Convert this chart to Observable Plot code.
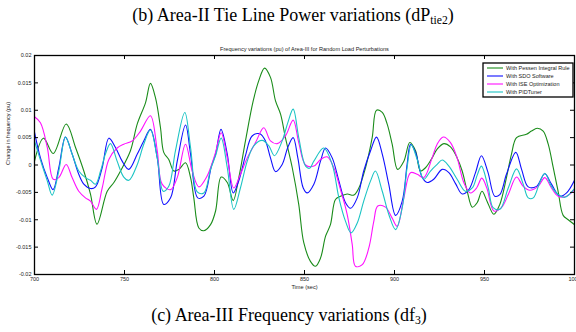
<!DOCTYPE html>
<html><head><meta charset="utf-8">
<script src="https://cdn.jsdelivr.net/npm/d3@7"></script>
<script src="https://cdn.jsdelivr.net/npm/@observablehq/plot@0.6"></script>
<style>
body{margin:0;background:#fff;}
#wrap{position:relative;width:576px;height:332px;overflow:hidden;font-family:"Liberation Serif","Times New Roman",serif;}
.cap{position:absolute;width:576px;text-align:center;font-size:18px;color:#000;white-space:nowrap;line-height:1;}
.cap sub{font-size:65%;vertical-align:-0.25em;}
</style></head><body>
<div id="wrap">
<div id="chart" style="position:absolute;left:0;top:0"></div>
<div class="cap" style="left:5px;top:6px">(b) Area-II Tie Line Power variations (dP<sub>tie2</sub>)</div>
<div class="cap" style="left:1px;top:306px">(c) Area-III Frequency variations (df<sub>3</sub>)</div>
</div>
<script>
const chartTitle = "Frequency variations (pu) of Area-III for Random Load Perturbations";
const xLabel = "Time (sec)";
const yLabel = "Change in frequency (pu)";
const xTicks = [700, 750, 800, 850, 900, 950, 1000];
const xTickLabels = ["700", "750", "800", "850", "900", "950", "1000"];
const yTicks = [-0.02, -0.015, -0.01, -0.005, 0, 0.005, 0.01, 0.015, 0.02];
const yTickLabels = ["-0.02", "-0.015", "-0.01", "-0.005", "0", "0.005", "0.01", "0.015", "0.02"];
const seriesNames = ["With Pessen Integral Rule", "With SDO Software", "With ISE Optimization", "With PIDTuner"];
const seriesColors = ["#1a8c1a", "#1010ff", "#ff10ff", "#1cc4c4"];

const pessen = [[700,0.0007],[705,0.0049],[710.4,0.0021],[717.6,0.0075],[722.8,0.0032],[727.4,-0.0011],[731.1,-0.0053],[734.7,-0.0108],[740.4,-0.0048],[744.1,-0.0032],[747.8,-0.0011],[753.3,0.0026],[757.1,0.0075],[761.7,0.0114],[764.4,0.0149],[767.2,0.0123],[770,0.0068],[771.8,0.0023],[774.6,0.001],[777.4,-0.0011],[780.2,-0.0008],[783.9,0.0004],[786.7,-0.0023],[788.5,-0.006],[791.3,-0.0115],[794.1,-0.012],[797.8,-0.0109],[800.6,-0.0084],[803.7,-0.0022],[807.1,-0.0032],[810.4,-0.0065],[813.5,-0.0023],[817.2,0.0044],[821.5,0.0117],[824.6,0.0154],[827.8,0.0177],[831.1,0.016],[833.9,0.0117],[836.7,0.0093],[839.4,0.005],[843.2,-0.0005],[846.8,-0.0072],[849.6,-0.0142],[853.3,-0.0176],[856.1,-0.0185],[858.9,-0.017],[861.7,-0.013],[864.4,-0.0109],[867.2,-0.0063],[870,-0.0057],[873.7,-0.0053],[877.4,-0.0055],[880.2,-0.0042],[883.9,-0.0005],[887.6,0.005],[890,0.01],[893.2,0.0096],[895.9,0.0075],[898.7,0.0038],[901.7,-0.0008],[905.2,0.0007],[908.5,0.0041],[911.7,0.0026],[914.4,-0.0011],[917.2,-0.0005],[920.9,0.0013],[923.7,0.0029],[927.4,0.0039],[931.1,0.0033],[934.8,0.0013],[937.6,-0.0011],[940.4,-0.0048],[943.2,-0.0077],[945.9,-0.0069],[948.6,-0.0048],[951.4,-0.0066],[955.2,-0.009],[958.5,-0.0072],[962.2,-0.0023],[965,0.002],[967.8,0.005],[973.3,0.0056],[976.1,0.0062],[979.3,0.0067],[982.6,0.0062],[985.4,0.0038],[988.2,-0.0005],[990.9,-0.0048],[993.7,-0.0092],[996.5,-0.01],[1000,-0.0109]];

const sdo = [[700,0.006],[703.3,0.0013],[707.1,-0.0023],[710.3,-0.0045],[713.5,-0.0005],[717.2,0.0051],[720.9,0.002],[724.6,-0.0017],[727.4,-0.0035],[731.1,-0.0043],[733.9,-0.004],[737.6,-0.0005],[741.3,0.0049],[745,0.0032],[748.7,0.0007],[752.4,-0.0008],[757.1,0.002],[760.7,0.0044],[764.4,0.0065],[768.2,0.0013],[771.8,-0.0072],[775.6,-0.006],[779.3,0.0007],[783.9,0.0073],[786.7,0.002],[790.7,-0.006],[794.1,-0.0057],[798.3,-0.0002],[800.6,0.002],[803.6,0.0065],[807.1,0.002],[810.4,-0.0051],[813.5,-0.0029],[817.2,0.0017],[820.9,0.0053],[825.2,0.0057],[828.3,0.0044],[831.1,0.0013],[833.9,-0.0012],[837.6,0.0001],[840.7,0.0032],[843.7,0.005],[846.3,0.0013],[849.3,-0.0042],[851.5,-0.0051],[855.2,-0.0035],[858.9,0.0007],[861.7,0.0031],[865.4,0.0013],[869.1,-0.0029],[872.8,-0.0069],[875.6,-0.0079],[879.3,-0.006],[882.9,-0.0011],[886.7,0.0026],[890,0.0051],[893.2,0.002],[896.8,-0.0035],[900.6,-0.0092],[904.3,-0.0066],[907,0.0001],[908.9,0.0038],[911.7,0.0023],[915.4,-0.0023],[918.2,-0.0032],[921.8,-0.0026],[926.5,-0.0008],[930.2,-0.0014],[933.9,-0.0034],[937.6,-0.0053],[941.3,-0.0045],[945,-0.0014],[948.3,0.0017],[951.9,-0.0013],[955.7,-0.0057],[958.5,-0.0054],[962.2,-0.0017],[967.4,0.0023],[970.6,-0.0008],[974.3,-0.004],[978.9,-0.0039],[983.5,-0.0016],[987.2,-0.0035],[991.8,-0.0057],[995.6,-0.0051],[1000,-0.0028]];

const ise = [[700,0.0088],[703.3,0.0077],[707.1,0.0032],[710.4,-0.0026],[713.5,-0.0023],[717.6,0.0001],[720.9,-0.0023],[724.6,-0.0048],[728.3,-0.006],[731.1,-0.0066],[734.4,-0.0081],[737.6,-0.0042],[741.3,0.001],[745.9,0.0031],[749.6,0.0038],[754.3,0.0044],[758.9,0.0062],[764.4,0.009],[768.2,0.0026],[770.9,-0.0035],[775.6,-0.0045],[779.3,-0.0023],[783.9,0.0038],[787.6,-0.0011],[791.3,-0.004],[795.9,-0.002],[797.8,-0.0005],[800.6,0.0023],[803.7,0.0059],[807.1,0.0013],[810.7,-0.0042],[814.4,-0.0017],[818.2,0.0013],[822.8,0.0041],[827.4,0.0068],[831.1,0.0044],[834.8,0.0039],[839.4,0.0053],[843.7,0.0082],[846.8,0.0041],[850.6,0],[855.2,-0.0002],[858.9,0.001],[862.6,0.0015],[866.3,-0.0005],[870,-0.0045],[873.7,-0.009],[876.5,-0.0145],[878.3,-0.0185],[882.1,-0.0182],[885.7,-0.0152],[888.5,-0.0103],[890.7,-0.0075],[895,-0.0077],[898.7,-0.0097],[901.5,-0.0112],[905.2,-0.006],[908.9,-0.0014],[912.6,-0.0017],[916.3,-0.0023],[920.9,0.0013],[923.7,0.0038],[927.1,0.0051],[931.1,0.0041],[934.8,0.0013],[938.5,-0.0032],[942.2,-0.0051],[945.6,-0.0042],[948.5,-0.0024],[951.3,-0.0042],[955.2,-0.0084],[959.4,-0.0078],[963.2,-0.0054],[967.8,-0.0022],[971.5,-0.0039],[975.2,-0.0046],[979.8,-0.0039],[983.5,-0.0023],[987.2,-0.0042],[990.9,-0.0057],[995.6,-0.0057],[1000,-0.0045]];

const pidTuner = [[700,0.0044],[703.3,0.0009],[707.1,-0.0029],[709.8,-0.0055],[713.5,-0.0011],[717.2,0.0051],[720.9,0.002],[724.6,-0.0011],[728.3,-0.0023],[731.1,-0.0028],[733.9,-0.0035],[736.7,-0.0011],[739.4,0.002],[742.2,0.0039],[745.9,0.0007],[749.6,-0.0022],[752.4,-0.0028],[757.1,0.0001],[760.7,0.0038],[764.4,0.0064],[768.2,0.0013],[771.5,-0.0048],[774.6,-0.0039],[778.3,0.0026],[783.5,0.0096],[786.7,0.0032],[790.4,-0.0049],[794.1,-0.0051],[797.8,-0.0008],[800.6,0.0017],[803.7,0.0049],[807.1,-0.0005],[810.7,-0.0081],[814.4,-0.0042],[818.2,0.0007],[821.8,0.0035],[826.5,0.0045],[830.2,0.0035],[833.3,0.0017],[837.6,0.0044],[840.7,0.0077],[843.7,0.0102],[846.8,0.005],[850.6,-0.0002],[852.8,-0.0006],[855.2,0.0007],[860.7,0.0031],[865.4,0.0001],[869.1,-0.006],[872.8,-0.0103],[875.9,-0.0124],[879.3,-0.0106],[882.9,-0.0066],[886.7,-0.0029],[889.4,-0.0011],[893.2,-0.0048],[896.8,-0.009],[900.6,-0.0118],[904.3,-0.0078],[907,-0.0005],[909.3,0.0037],[912.6,0.001],[916.3,-0.0026],[920,-0.0011],[923.7,0.0001],[926.5,0.0009],[930.2,-0.0002],[934.8,-0.0026],[939.4,-0.0048],[943.2,-0.0042],[946,-0.0018],[948.3,-0.0002],[952.1,-0.0042],[954.8,-0.0078],[958.5,-0.0081],[963.2,-0.0042],[967.8,-0.0007],[971.5,-0.0035],[974.3,-0.006],[977.1,-0.006],[980.7,-0.0032],[983.5,-0.0015],[987.2,-0.0039],[990.9,-0.0054],[994.6,-0.0059],[1000,-0.0043]];

const seriesData = [pessen, sdo, ise, pidTuner];
const rows = seriesData.flatMap((arr, k) => arr.map(([t, v]) => ({t, v, name: seriesNames[k]})));

const W = 576, H = 332, mL = 34, mR = 2, mT = 55, mB = 58;
const fw = W - mL - mR, fh = H - mT - mB, tl = 4;

const chart = Plot.plot({
  width: W, height: H,
  marginLeft: mL, marginRight: mR, marginTop: mT, marginBottom: mB,
  x: {domain: [700, 1000]},
  y: {domain: [-0.02, 0.02]},
  color: {domain: seriesNames, range: seriesColors},
  style: {fontFamily: "'Liberation Sans', Arial, sans-serif", fontSize: "5.5px", background: "white", color: "#222"},
  marks: [
    Plot.axisX({ticks: xTicks, tickSize: 0, tickPadding: 3, tickFormat: d => xTickLabels[xTicks.indexOf(d)], label: null}),
    Plot.axisY({ticks: yTicks, tickSize: 0, tickPadding: 3, tickFormat: d => yTickLabels[yTicks.indexOf(d)], label: null}),
    Plot.line(rows, {x: "t", y: "v", z: "name", stroke: "name", strokeWidth: 1.1, curve: "catmull-rom", clip: true}),
    Plot.tickY(yTicks, {y: d => d, insetRight: fw - tl, stroke: "black", strokeWidth: 1}),
    Plot.tickY(yTicks, {y: d => d, insetLeft: fw - tl, stroke: "black", strokeWidth: 1}),
    Plot.tickX(xTicks, {x: d => d, insetTop: fh - tl, stroke: "black", strokeWidth: 1}),
    Plot.tickX(xTicks, {x: d => d, insetBottom: fh - tl, stroke: "black", strokeWidth: 1}),
    Plot.frame({stroke: "black", strokeWidth: 1.3}),
    Plot.text([chartTitle], {text: d => d, frameAnchor: "top", dy: -8, fontSize: 5.6, fill: "#222"}),
    Plot.text([xLabel], {text: d => d, frameAnchor: "bottom", dy: 14, fontSize: 5.6, fill: "#222"}),
    Plot.text([yLabel], {text: d => d, frameAnchor: "left", rotate: -90, dx: -26, fontSize: 5.6, fill: "#222"})
  ]
});
document.getElementById("chart").appendChild(chart);

// legend box (top-right, inside the frame)
const lg = d3.select("#wrap").append("svg")
  .attr("width", 92).attr("height", 36)
  .style("position", "absolute").style("left", "482px").style("top", "62px");
lg.append("rect").attr("x", 1).attr("y", 1).attr("width", 90).attr("height", 34)
  .attr("fill", "white").attr("stroke", "black").attr("stroke-width", 1.3);
seriesNames.forEach((name, i) => {
  const y = 6 + i * 8;
  lg.append("line").attr("x1", 5).attr("x2", 21).attr("y1", y).attr("y2", y)
    .attr("stroke", seriesColors[i]).attr("stroke-width", 1.1);
  lg.append("text").attr("x", 24).attr("y", y).attr("dy", "0.35em")
    .attr("font-family", "'Liberation Sans', Arial, sans-serif").attr("font-size", 5.5)
    .attr("fill", "#222").text(name);
});
</script>
</body></html>
